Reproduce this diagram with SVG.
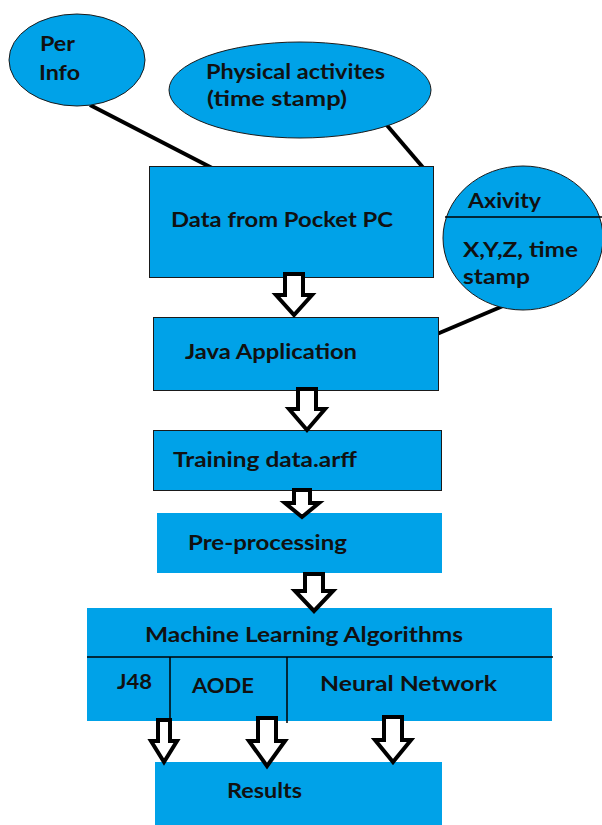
<svg xmlns="http://www.w3.org/2000/svg" width="602" height="825" viewBox="0 0 602 825">
<style>
.bg{fill:#ffffff}
.shape{fill:#00a2e8}
.edge{stroke:#1a1a1a;stroke-width:1}
.t{font-family:Lato,"Open Sans","Liberation Sans",sans-serif;font-weight:bold;font-size:21.5px;fill:#111111}
.link{stroke:#000000;stroke-width:4;fill:none;stroke-linecap:butt}
.div{stroke:#000000;stroke-width:1.5;fill:none}
.blk{fill:#ffffff;stroke:#000000;stroke-width:4;stroke-linejoin:miter}
</style>
<rect class="bg" x="0" y="0" width="602" height="825"/>

<g id="connectors">
  <line class="link" x1="90" y1="105" x2="214" y2="169"/>
  <line class="link" x1="385" y1="123" x2="426" y2="171"/>
  <line class="link" x1="503" y1="306" x2="437" y2="334"/>
</g>

<g id="per-info">
  <ellipse class="shape edge" cx="77" cy="60" rx="68" ry="46"/>
  <text class="t" x="40" y="51" textLength="35" lengthAdjust="spacingAndGlyphs">Per</text>
  <text class="t" x="39" y="80" textLength="41" lengthAdjust="spacingAndGlyphs">Info</text>
</g>

<g id="physical-activities">
  <ellipse class="shape edge" cx="300" cy="90" rx="131" ry="48"/>
  <text class="t" x="206" y="79" textLength="179" lengthAdjust="spacingAndGlyphs">Physical activites</text>
  <text class="t" x="207" y="106" textLength="140" lengthAdjust="spacingAndGlyphs">(time stamp)</text>
</g>

<g id="data-pocket-pc">
  <rect class="shape edge" x="149.5" y="166.5" width="284" height="111"/>
  <text class="t" x="171" y="227" textLength="222" lengthAdjust="spacingAndGlyphs">Data from Pocket PC</text>
</g>

<g id="axivity">
  <ellipse class="shape edge" cx="523" cy="238" rx="80" ry="72"/>
  <line class="div" x1="445" y1="217" x2="602" y2="217"/>
  <text class="t" x="468" y="208" textLength="73" lengthAdjust="spacingAndGlyphs">Axivity</text>
  <text class="t" x="463" y="257" textLength="115" lengthAdjust="spacingAndGlyphs">X,Y,Z, time</text>
  <text class="t" x="463" y="284" textLength="67" lengthAdjust="spacingAndGlyphs">stamp</text>
</g>

<g id="java-application">
  <rect class="shape edge" x="153.5" y="317.5" width="285" height="73"/>
  <text class="t" x="185" y="359" textLength="172" lengthAdjust="spacingAndGlyphs">Java Application</text>
</g>

<g id="training-data">
  <rect class="shape edge" x="153.5" y="430.5" width="288" height="60"/>
  <text class="t" x="173" y="467" textLength="184" lengthAdjust="spacingAndGlyphs">Training data.arff</text>
</g>

<g id="pre-processing">
  <rect class="shape" x="157" y="513" width="285" height="60"/>
  <text class="t" x="188" y="550" textLength="159" lengthAdjust="spacingAndGlyphs">Pre-processing</text>
</g>

<g id="ml-algorithms">
  <rect class="shape" x="87" y="608" width="465" height="113"/>
  <line class="div" x1="87" y1="657" x2="553" y2="657"/>
  <line class="div" x1="170" y1="657" x2="170" y2="718"/>
  <line class="div" x1="287" y1="657" x2="287" y2="723"/>
  <text class="t" x="145" y="642" textLength="318" lengthAdjust="spacingAndGlyphs">Machine Learning Algorithms</text>
  <text class="t" x="117" y="689" textLength="35" lengthAdjust="spacingAndGlyphs">J48</text>
  <text class="t" x="192" y="693" textLength="62" lengthAdjust="spacingAndGlyphs">AODE</text>
  <text class="t" x="320" y="691" textLength="177" lengthAdjust="spacingAndGlyphs">Neural Network</text>
</g>

<g id="results">
  <rect class="shape" x="155" y="762" width="287" height="63"/>
  <text class="t" x="227" y="798" textLength="75" lengthAdjust="spacingAndGlyphs">Results</text>
</g>

<g id="flow-arrows">
  <polygon class="blk" points="285,274 303,274 303,295 312,295 294,315 276,295 285,295"/>
  <polygon class="blk" points="298,389 316,389 316,409 325,409 307,430 289,409 298,409"/>
  <polygon class="blk" points="294,490 310,490 310,503 319,503 302,517 285,503 294,503"/>
  <polygon class="blk" points="305,574 323,574 323,591 333,591 314,611 295,591 305,591"/>
  <polygon class="blk" points="158,720 170,720 170,741 177,741 164,762 151,741 158,741"/>
  <polygon class="blk" points="258,718 276,718 276,741 285,741 267,766 249,741 258,741"/>
  <polygon class="blk" points="384,717 402,717 402,740 411,740 393,762 375,740 384,740"/>
</g>
</svg>
